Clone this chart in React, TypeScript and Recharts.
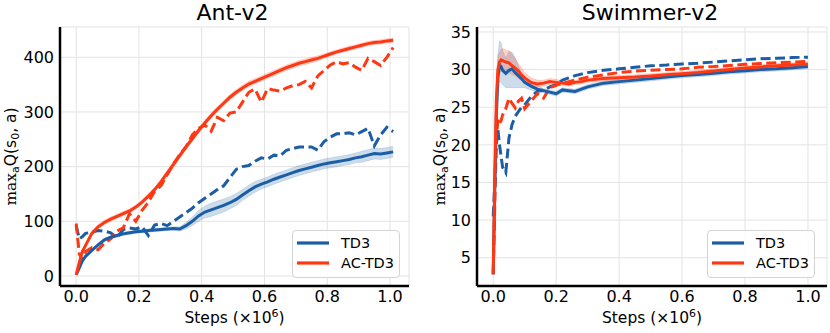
import React from 'react';
import { ComposedChart, Line, Area, XAxis, YAxis, CartesianGrid, Legend } from 'recharts';

const FONT = '"DejaVu Sans", sans-serif';
const BLUE = '#1c5ea6';
const RED = '#ff3814';

// ---------- Ant-v2 ----------
const antSteps = [0, 0.01, 0.02, 0.03, 0.05, 0.07, 0.09, 0.11, 0.13, 0.15, 0.17, 0.19, 0.21, 0.23, 0.25, 0.27, 0.29, 0.31, 0.33, 0.35, 0.37, 0.39, 0.41, 0.43, 0.45, 0.47, 0.49, 0.51, 0.53, 0.55, 0.57, 0.59, 0.61, 0.63, 0.65, 0.67, 0.69, 0.71, 0.73, 0.75, 0.77, 0.79, 0.81, 0.83, 0.85, 0.87, 0.89, 0.91, 0.93, 0.95, 0.97, 0.99, 1.01];
const antTd3Mean = [2, 15, 28, 36, 47, 57, 66, 71, 74, 77, 79, 81, 82, 83, 84, 85, 86, 87, 86, 92, 100, 110, 117, 121, 125, 129, 134, 140, 148, 156, 163, 168, 172, 177, 181, 185, 189, 193, 196, 199, 202, 205, 207, 209, 211, 213, 216, 218, 221, 224, 223, 225, 227];
const antTd3Spread = [0, 2, 3, 3, 3, 3, 3, 3, 3, 3, 3, 3, 3, 3, 3, 3, 3, 3, 4, 6, 8, 10, 11, 12, 12, 12, 11, 11, 10, 10, 10, 9, 9, 9, 9, 9, 9, 9, 9, 9, 9, 9, 9, 9, 9, 9, 9, 10, 10, 10, 10, 10, 10];
const antTd3Dash = [92, 68, 72, 78, 80, 83, 82, 79, 70, 85, 88, 86, 90, 74, 93, 96, 92, 100, 108, 116, 124, 134, 142, 150, 158, 165, 180, 195, 200, 202, 210, 216, 214, 221, 220, 230, 233, 236, 236, 236, 230, 246, 254, 260, 260, 262, 258, 264, 270, 238, 258, 272, 264];
const antAcMean = [2, 25, 45, 56, 78, 90, 98, 104, 109, 114, 119, 126, 135, 146, 158, 172, 188, 204, 220, 236, 251, 266, 280, 293, 305, 316, 327, 336, 344, 351, 356, 361, 366, 371, 376, 381, 385, 389, 392, 395, 398, 402, 406, 410, 413, 416, 419, 422, 425, 427, 428, 430, 431];
const antAcSpread = [0, 3, 4, 4, 4, 4, 4, 4, 4, 4, 4, 4, 4, 4, 4, 4, 5, 5, 5, 5, 5, 5, 5, 5, 5, 5, 5, 5, 5, 5, 5, 5, 5, 5, 5, 5, 5, 5, 5, 5, 5, 4, 4, 4, 4, 4, 4, 4, 4, 4, 4, 4, 4];
const antAcDash = [96, 40, 30, 45, 52, 48, 60, 68, 82, 88, 114, 100, 120, 135, 155, 165, 185, 205, 222, 236, 258, 270, 276, 265, 290, 284, 298, 300, 318, 336, 342, 318, 343, 340, 338, 344, 348, 350, 356, 344, 366, 376, 386, 392, 388, 390, 382, 376, 398, 392, 385, 400, 418];
const antYTicks = [0, 100, 200, 300, 400];
const antYDomain: [number, number] = [-18.3, 455.4];

// ---------- Swimmer-v2 ----------
const swSteps = [0, 0.005, 0.01, 0.015, 0.02, 0.025, 0.03, 0.04, 0.05, 0.06, 0.07, 0.08, 0.09, 0.1, 0.12, 0.14, 0.16, 0.18, 0.2, 0.22, 0.24, 0.26, 0.28, 0.3, 0.35, 0.4, 0.45, 0.5, 0.55, 0.6, 0.65, 0.7, 0.75, 0.8, 0.85, 0.9, 0.95, 1.0];
const swTd3Mean = [2.8, 14, 24, 29, 30.6, 30.4, 29.9, 29.5, 29.9, 30.1, 29.6, 29.2, 28.8, 28.3, 27.8, 27.4, 27.2, 27.0, 26.8, 27.3, 27.2, 27.1, 27.4, 27.7, 28.2, 28.4, 28.6, 28.8, 29.0, 29.2, 29.35, 29.5, 29.7, 29.85, 30.0, 30.1, 30.25, 30.4];
const swTd3Lo = [2.8, 12, 20, 26, 28.5, 28.3, 28.0, 27.6, 27.6, 27.6, 27.6, 27.6, 27.6, 27.6, 27.3, 27.0, 26.9, 26.7, 26.5, 27.0, 26.9, 26.8, 27.1, 27.4, 27.9, 28.1, 28.3, 28.5, 28.7, 28.9, 29.05, 29.2, 29.4, 29.55, 29.7, 29.8, 29.95, 30.1];
const swTd3Hi = [2.8, 16, 28, 32, 33.8, 33.6, 32.5, 31.5, 32.4, 32.3, 31.5, 30.5, 29.5, 28.9, 28.3, 27.8, 27.5, 27.3, 27.1, 27.6, 27.5, 27.4, 27.7, 28.0, 28.5, 28.7, 28.9, 29.1, 29.3, 29.5, 29.65, 29.8, 30.0, 30.15, 30.3, 30.4, 30.55, 30.7];
const swTd3Dash = [10.5, 15, 20, 22, 20, 18.5, 17, 16.3, 20.9, 22.7, 23.8, 24.4, 25.0, 25.3, 26.4, 27.1, 27.3, 27.7, 28.0, 28.6, 28.9, 29.2, 29.4, 29.6, 29.9, 30.1, 30.3, 30.5, 30.6, 30.75, 30.85, 31.0, 31.15, 31.3, 31.45, 31.5, 31.6, 31.65];
const swAcMean = [2.8, 16, 26, 30, 31.0, 31.3, 31.2, 31.0, 30.9, 30.5, 30.2, 29.8, 29.3, 28.9, 28.3, 28.1, 28.2, 28.4, 28.3, 28.2, 28.1, 28.3, 28.4, 28.6, 28.8, 28.9, 29.0, 29.15, 29.3, 29.45, 29.6, 29.8, 30.0, 30.2, 30.35, 30.5, 30.6, 30.7];
const swAcLo = [2.8, 14, 23, 28, 29.5, 29.8, 29.8, 29.7, 29.5, 29.3, 29.2, 28.8, 28.5, 28.3, 27.8, 27.7, 27.8, 28.0, 27.9, 27.9, 27.8, 28.0, 28.1, 28.3, 28.5, 28.6, 28.7, 28.85, 29.0, 29.15, 29.3, 29.5, 29.7, 29.9, 30.05, 30.2, 30.3, 30.4];
const swAcHi = [2.8, 18, 29, 31.8, 32.3, 32.7, 32.8, 32.6, 32.5, 32.0, 31.5, 30.8, 30.2, 29.6, 28.9, 28.6, 28.6, 28.8, 28.7, 28.5, 28.4, 28.6, 28.7, 28.9, 29.1, 29.2, 29.3, 29.45, 29.6, 29.75, 29.9, 30.1, 30.3, 30.5, 30.65, 30.8, 30.9, 31.0];
const swAcDash = [2.8, 12, 21, 23.3, 22.8, 23.2, 24.0, 24.8, 26.2, 25.5, 24.9, 25.8, 26.2, 24.8, 25.8, 26.8, 26.2, 27.6, 27.9, 28.2, 28.4, 28.6, 28.8, 29.0, 29.3, 29.6, 29.8, 29.9, 30.0, 30.1, 30.3, 30.4, 30.55, 30.7, 30.8, 30.9, 31.0, 31.1];
const swYTicks = [5, 10, 15, 20, 25, 30, 35];
const swYDomain: [number, number] = [1.24, 35.66];

const xTicks = [0, 0.2, 0.4, 0.6, 0.8, 1.0];
const xDomain: [number, number] = [-0.0515, 1.0605];
const legendOrder = ['TD3', 'AC-TD3'];

const antRows = antSteps.map((x, i) => ({
  x,
  tdMean: antTd3Mean[i],
  tdBand: [antTd3Mean[i] - antTd3Spread[i], antTd3Mean[i] + antTd3Spread[i]],
  tdDash: antTd3Dash[i],
  acMean: antAcMean[i],
  acBand: [antAcMean[i] - antAcSpread[i], antAcMean[i] + antAcSpread[i]],
  acDash: antAcDash[i],
}));

const swRows = swSteps.map((x, i) => ({
  x,
  tdMean: swTd3Mean[i],
  tdBand: [swTd3Lo[i], swTd3Hi[i]],
  tdDash: swTd3Dash[i],
  acMean: swAcMean[i],
  acBand: [swAcLo[i], swAcHi[i]],
  acDash: swAcDash[i],
}));

const XLabel = (props: any) => {
  const vb = props.viewBox || {};
  const cx = vb.x + vb.width / 2;
  const y = vb.y + 37;
  return (
    <text x={cx} y={y} textAnchor="middle" fontSize={15.5} fontFamily={FONT} fill="#000">
      Steps (×10<tspan dy={-6} fontSize={11}>6</tspan>
      <tspan dy={6}>)</tspan>
    </text>
  );
};

const YLabel = (props: any) => {
  const vb = props.viewBox || {};
  const cx = vb.x + props.offsetX;
  const cy = vb.y + vb.height / 2;
  return (
    <text
      x={cx}
      y={cy}
      transform={`rotate(-90 ${cx} ${cy})`}
      textAnchor="middle"
      dominantBaseline="central"
      fontSize={15.5}
      fontFamily={FONT}
      fill="#000"
    >
      <tspan fontFamily='"DejaVu Serif", serif'>max</tspan>
      <tspan fontSize={11} dy={4}>a</tspan>
      <tspan dy={-4}>Q(s</tspan>
      <tspan fontSize={11} dy={4}>0</tspan>
      <tspan dy={-4}>, a)</tspan>
    </text>
  );
};

const renderLegend = (props: any) => {
  const items = (props.payload || [])
    .filter((p: any) => p.type !== 'none')
    .slice()
    .sort((a: any, b: any) => legendOrder.indexOf(a.value) - legendOrder.indexOf(b.value));
  return (
    <div
      style={{
        boxSizing: 'border-box',
        width: 108,
        height: 48,
        border: '1px solid #d4d4d4',
        borderRadius: 4,
        background: 'rgba(255,255,255,0.85)',
        padding: '2px 0 0 4px',
        fontFamily: FONT,
        fontSize: 14.5,
        color: '#000',
      }}
    >
      {items.map((it: any) => (
        <div key={it.value} style={{ display: 'flex', alignItems: 'center', height: 20 }}>
          <svg width={32} height={6} style={{ display: 'block' }}>
            <line x1={0} y1={3} x2={32} y2={3} stroke={it.color} strokeWidth={3.2} />
          </svg>
          <span style={{ marginLeft: 12, lineHeight: '20px' }}>{it.value}</span>
        </div>
      ))}
    </div>
  );
};

type PanelProps = {
  rows: any[];
  title: string;
  yDomain: [number, number];
  yTicks: number[];
  yAxisWidth: number;
  rightMargin: number;
  yLabelX: number;
  left: number;
};

const Panel = ({ rows, title, yDomain, yTicks, yAxisWidth, rightMargin, yLabelX, left }: PanelProps) => (
  <div style={{ position: 'absolute', left, top: 0, width: 415, height: 333 }}>
    <div
      style={{
        position: 'absolute',
        left: yAxisWidth - 2,
        width: 415 - yAxisWidth - rightMargin,
        top: 0,
        textAlign: 'center',
        fontFamily: FONT,
        fontSize: 22,
        lineHeight: '26px',
        color: '#000',
      }}
    >
      {title}
    </div>
    <ComposedChart width={415} height={333} data={rows} margin={{ top: 27, right: rightMargin, bottom: 0, left: 0 }}>
      <CartesianGrid stroke="#e3e3e3" strokeWidth={1} />
      <XAxis
        type="number"
        dataKey="x"
        domain={xDomain}
        ticks={xTicks}
        allowDataOverflow
        tickFormatter={(v: number) => v.toFixed(1)}
        height={47}
        tickLine={false}
        tickSize={0}
        tickMargin={5}
        axisLine={{ stroke: '#000', strokeWidth: 2.5 }}
        tick={{ fill: '#000', fontSize: 16, fontFamily: FONT }}
        label={<XLabel />}
      />
      <YAxis
        type="number"
        domain={yDomain}
        ticks={yTicks}
        allowDataOverflow
        width={yAxisWidth}
        tickLine={false}
        tickSize={0}
        tickMargin={6}
        axisLine={{ stroke: '#000', strokeWidth: 2.5 }}
        tick={{ fill: '#000', fontSize: 16, fontFamily: FONT }}
        label={<YLabel offsetX={yLabelX} />}
      />
      <Area type="linear" dataKey="tdBand" fill={BLUE} fillOpacity={0.22} stroke={BLUE} strokeOpacity={0.25} strokeWidth={0.6} isAnimationActive={false} legendType="none" />
      <Area type="linear" dataKey="acBand" fill={RED} fillOpacity={0.22} stroke={RED} strokeOpacity={0.25} strokeWidth={0.6} isAnimationActive={false} legendType="none" />
      <Line type="linear" dataKey="tdDash" stroke={BLUE} strokeWidth={3} strokeDasharray="10 4.5" dot={false} activeDot={false} isAnimationActive={false} legendType="none" />
      <Line type="linear" dataKey="acDash" stroke={RED} strokeWidth={3} strokeDasharray="10 4.5" dot={false} activeDot={false} isAnimationActive={false} legendType="none" />
      <Line type="linear" dataKey="tdMean" name="TD3" stroke={BLUE} strokeWidth={3} dot={false} activeDot={false} isAnimationActive={false} />
      <Line type="linear" dataKey="acMean" name="AC-TD3" stroke={RED} strokeWidth={3} dot={false} activeDot={false} isAnimationActive={false} />
      <Legend
        layout="horizontal"
        align="center"
        verticalAlign="middle"
        content={renderLegend}
        wrapperStyle={{ left: 292, top: 230, width: 108, height: 48 }}
      />
    </ComposedChart>
  </div>
);

export default function App() {
  return (
    <div style={{ position: 'absolute', left: 0, top: 0, width: 830, height: 333, background: '#fff' }}>
      <Panel rows={antRows} title="Ant-v2" yDomain={antYDomain} yTicks={antYTicks} yAxisWidth={60} rightMargin={6} yLabelX={11} left={0} />
      <Panel rows={swRows} title="Swimmer-v2" yDomain={swYDomain} yTicks={swYTicks} yAxisWidth={62} rightMargin={3} yLabelX={25} left={415} />
    </div>
  );
}
